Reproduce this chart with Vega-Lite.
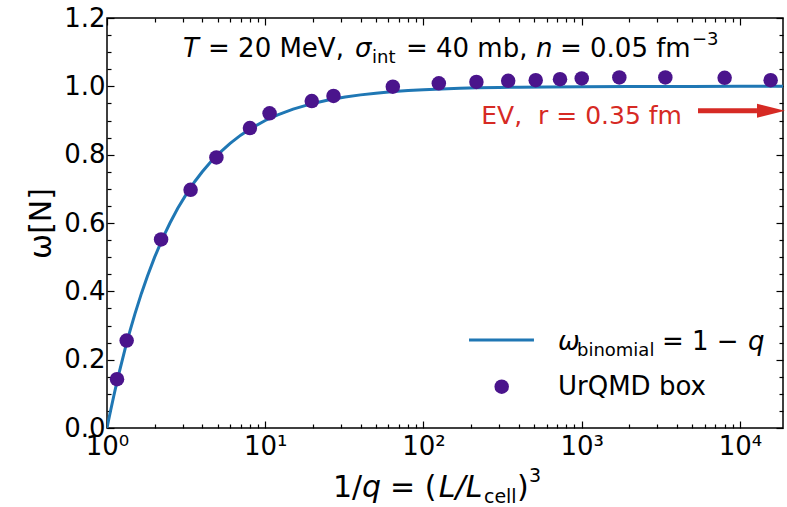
{
  "$schema": "https://vega.github.io/schema/vega-lite/v6.json",
  "width": 676,
  "height": 410,
  "autosize": {"type": "none"},
  "padding": {"left": 107, "top": 18, "right": 4, "bottom": 79},
  "background": "white",
  "config": {
    "view": {"stroke": "black", "strokeWidth": 1.5},
    "font": "DejaVu Sans",
    "axis": {"domain": false, "grid": false, "tickColor": "black", "tickWidth": 1.2, "labelColor": "black", "labelFont": "DejaVu Sans", "labelFontSize": 26, "labelOverlap": false, "labelFlush": false, "labelBound": false, "titleColor": "black", "titleFont": "DejaVu Sans", "titleFontWeight": "normal"}
  },
  "resolve": {"axis": {"x": "independent", "y": "independent"}},
  "layer": [
    {
      "data": {"values": [
        {"x": 1, "y": 0}, {"x": 1.02, "y": 0.0196}, {"x": 1.05, "y": 0.0476}, {"x": 1.1, "y": 0.0909}, {"x": 1.15, "y": 0.1304}, {"x": 1.2, "y": 0.1667}, {"x": 1.3, "y": 0.2308}, {"x": 1.4, "y": 0.2857}, {"x": 1.5, "y": 0.3333}, {"x": 1.65, "y": 0.3939}, {"x": 1.8, "y": 0.4444}, {"x": 2, "y": 0.5}, {"x": 2.25, "y": 0.5556}, {"x": 2.5, "y": 0.6}, {"x": 2.8, "y": 0.6429}, {"x": 3.2, "y": 0.6875}, {"x": 3.6, "y": 0.7222}, {"x": 4, "y": 0.75}, {"x": 4.5, "y": 0.7778}, {"x": 5, "y": 0.8}, {"x": 6, "y": 0.8333}, {"x": 7, "y": 0.8571}, {"x": 8, "y": 0.875}, {"x": 10, "y": 0.9}, {"x": 12, "y": 0.9167}, {"x": 15, "y": 0.9333}, {"x": 20, "y": 0.95}, {"x": 25, "y": 0.96}, {"x": 32, "y": 0.96875}, {"x": 40, "y": 0.975}, {"x": 50, "y": 0.98}, {"x": 65, "y": 0.9846}, {"x": 80, "y": 0.9875}, {"x": 100, "y": 0.99}, {"x": 130, "y": 0.9923}, {"x": 170, "y": 0.9941}, {"x": 220, "y": 0.9955}, {"x": 300, "y": 0.9967}, {"x": 400, "y": 0.9975}, {"x": 600, "y": 0.9983}, {"x": 1000, "y": 0.999}, {"x": 2000, "y": 0.9995}, {"x": 5000, "y": 0.9998}, {"x": 10000, "y": 0.9999}, {"x": 18700, "y": 0.99995}
      ]},
      "mark": {"type": "line", "color": "#1f77b4", "strokeWidth": 3, "clip": true},
      "encoding": {
        "x": {"field": "x", "type": "quantitative", "scale": {"type": "log", "domain": [1, 18700]},
          "axis": {"orient": "bottom", "title": null,
            "values": [1, 2, 3, 4, 5, 6, 7, 8, 9, 10, 20, 30, 40, 50, 60, 70, 80, 90, 100, 200, 300, 400, 500, 600, 700, 800, 900, 1000, 2000, 3000, 4000, 5000, 6000, 7000, 8000, 9000, 10000],
            "labelExpr": "datum.value == 1 ? '10⁰' : datum.value == 10 ? '10¹' : datum.value == 100 ? '10²' : datum.value == 1000 ? '10³' : datum.value == 10000 ? '10⁴' : ''",
            "tickSize": {"condition": {"test": "indexof([1, 10, 100, 1000, 10000], datum.value) >= 0", "value": -7}, "value": -4},
            "labelPadding": 12}},
        "y": {"field": "y", "type": "quantitative", "scale": {"domain": [0, 1.2]},
          "axis": {"orient": "left", "title": "ω[N]", "titleFontSize": 30, "titlePadding": 7,
            "values": [0, 0.05, 0.1, 0.15, 0.2, 0.25, 0.3, 0.35, 0.4, 0.45, 0.5, 0.55, 0.6, 0.65, 0.7, 0.75, 0.8, 0.85, 0.9, 0.95, 1, 1.05, 1.1, 1.15, 1.2],
            "labelExpr": "abs(datum.value * 5 - round(datum.value * 5)) < 0.000001 ? format(datum.value, '.1f') : ''",
            "tickSize": {"condition": {"test": "abs(datum.value * 5 - round(datum.value * 5)) < 0.000001", "value": -7}, "value": -4},
            "labelPadding": 9}}
      }
    },
    {
      "data": {"values": [
        {"x": 1.157, "y": 0.143}, {"x": 1.331, "y": 0.256}, {"x": 2.197, "y": 0.552}, {"x": 3.375, "y": 0.697}, {"x": 4.913, "y": 0.792}, {"x": 8, "y": 0.878}, {"x": 10.65, "y": 0.921}, {"x": 19.68, "y": 0.957}, {"x": 27, "y": 0.972}, {"x": 64, "y": 0.999}, {"x": 125, "y": 1.009}, {"x": 216, "y": 1.013}, {"x": 343, "y": 1.016}, {"x": 512, "y": 1.018}, {"x": 729, "y": 1.021}, {"x": 1000, "y": 1.023}, {"x": 1728, "y": 1.026}, {"x": 3375, "y": 1.026}, {"x": 8000, "y": 1.025}, {"x": 15625, "y": 1.018}
      ]},
      "mark": {"type": "circle", "color": "#4a148c", "size": 210, "opacity": 1},
      "encoding": {
        "x": {"field": "x", "type": "quantitative", "scale": {"type": "log", "domain": [1, 18700]},
          "axis": {"orient": "top", "title": null, "labels": false,
            "values": [1, 2, 3, 4, 5, 6, 7, 8, 9, 10, 20, 30, 40, 50, 60, 70, 80, 90, 100, 200, 300, 400, 500, 600, 700, 800, 900, 1000, 2000, 3000, 4000, 5000, 6000, 7000, 8000, 9000, 10000],
            "tickSize": {"condition": {"test": "indexof([1, 10, 100, 1000, 10000], datum.value) >= 0", "value": -7}, "value": -4}}},
        "y": {"field": "y", "type": "quantitative", "scale": {"domain": [0, 1.2]},
          "axis": {"orient": "right", "title": null, "labels": false,
            "values": [0, 0.05, 0.1, 0.15, 0.2, 0.25, 0.3, 0.35, 0.4, 0.45, 0.5, 0.55, 0.6, 0.65, 0.7, 0.75, 0.8, 0.85, 0.9, 0.95, 1, 1.05, 1.1, 1.15, 1.2],
            "tickSize": {"condition": {"test": "abs(datum.value * 5 - round(datum.value * 5)) < 0.000001", "value": -7}, "value": -4}}}
      }
    },
    {
      "data": {"values": [{"x": 194, "x2": 499, "y": 0.2575}]},
      "mark": {"type": "rule", "color": "#1f77b4", "strokeWidth": 3},
      "encoding": {
        "x": {"field": "x", "type": "quantitative", "scale": {"type": "log", "domain": [1, 18700]}, "axis": null},
        "x2": {"field": "x2"},
        "y": {"field": "y", "type": "quantitative", "scale": {"domain": [0, 1.2]}, "axis": null}
      }
    },
    {
      "data": {"values": [{"x": 312, "y": 0.1209}]},
      "mark": {"type": "circle", "color": "#4a148c", "size": 210, "opacity": 1},
      "encoding": {
        "x": {"field": "x", "type": "quantitative", "scale": {"type": "log", "domain": [1, 18700]}, "axis": null},
        "y": {"field": "y", "type": "quantitative", "scale": {"domain": [0, 1.2]}, "axis": null}
      }
    },
    {
      "data": {"values": [{"x": 5430, "x2": 12805, "y": 0.9286}]},
      "mark": {"type": "rule", "color": "#d62a24", "strokeWidth": 5, "strokeCap": "butt"},
      "encoding": {
        "x": {"field": "x", "type": "quantitative", "scale": {"type": "log", "domain": [1, 18700]}, "axis": null},
        "x2": {"field": "x2"},
        "y": {"field": "y", "type": "quantitative", "scale": {"domain": [0, 1.2]}, "axis": null}
      }
    },
    {
      "data": {"values": [{"x": 15700, "y": 0.9286}]},
      "mark": {"type": "point", "shape": "M-1,-0.5L1,0L-1,0.5Z", "filled": true, "color": "#d62a24", "size": 784, "opacity": 1},
      "encoding": {
        "x": {"field": "x", "type": "quantitative", "scale": {"type": "log", "domain": [1, 18700]}, "axis": null},
        "y": {"field": "y", "type": "quantitative", "scale": {"domain": [0, 1.2]}, "axis": null}
      }
    },
    {
      "data": {"values": [{"x": 232, "y": 0.8897, "t": "EV,\u00a0 r = 0.35 fm"}]},
      "mark": {"type": "text", "align": "left", "baseline": "alphabetic", "fontSize": 25, "font": "DejaVu Sans", "color": "#d62a24"},
      "encoding": {
        "x": {"field": "x", "type": "quantitative", "scale": {"type": "log", "domain": [1, 18700]}, "axis": null},
        "y": {"field": "y", "type": "quantitative", "scale": {"domain": [0, 1.2]}, "axis": null},
        "text": {"field": "t"}
      }
    },
    {
      "data": {"values": [
        {"x": 4.35, "y": 1.0857, "t": "= 20 MeV,"},
        {"x": 77.5, "y": 1.0857, "t": "= 40 mb,"},
        {"x": 729, "y": 1.0857, "t": "= 0.05 fm"},
        {"x": 3214, "y": 0.228, "t": "= 1 −"},
        {"x": 708, "y": 0.0966, "t": "UrQMD box"}
      ]},
      "mark": {"type": "text", "align": "left", "baseline": "alphabetic", "fontSize": 26, "font": "DejaVu Sans", "color": "black"},
      "encoding": {
        "x": {"field": "x", "type": "quantitative", "scale": {"type": "log", "domain": [1, 18700]}, "axis": null},
        "y": {"field": "y", "type": "quantitative", "scale": {"domain": [0, 1.2]}, "axis": null},
        "text": {"field": "t"}
      }
    },
    {
      "data": {"values": [
        {"x": 3.02, "y": 1.0857, "t": "T"},
        {"x": 36.9, "y": 1.0857, "t": "σ"},
        {"x": 514, "y": 1.0857, "t": "n"},
        {"x": 708, "y": 0.228, "t": "ω"},
        {"x": 11236, "y": 0.228, "t": "q"}
      ]},
      "mark": {"type": "text", "align": "left", "baseline": "alphabetic", "fontSize": 26, "fontStyle": "italic", "font": "DejaVu Sans", "color": "black"},
      "encoding": {
        "x": {"field": "x", "type": "quantitative", "scale": {"type": "log", "domain": [1, 18700]}, "axis": null},
        "y": {"field": "y", "type": "quantitative", "scale": {"domain": [0, 1.2]}, "axis": null},
        "text": {"field": "t"}
      }
    },
    {
      "data": {"values": [
        {"x": 47.3, "y": 1.068, "t": "int"},
        {"x": 933, "y": 0.2107, "t": "binomial"}
      ]},
      "mark": {"type": "text", "align": "left", "baseline": "alphabetic", "fontSize": 18, "font": "DejaVu Sans", "color": "black"},
      "encoding": {
        "x": {"field": "x", "type": "quantitative", "scale": {"type": "log", "domain": [1, 18700]}, "axis": null},
        "y": {"field": "y", "type": "quantitative", "scale": {"domain": [0, 1.2]}, "axis": null},
        "text": {"field": "t"}
      }
    },
    {
      "data": {"values": [
        {"x": 4977, "y": 1.121, "t": "−3"}
      ]},
      "mark": {"type": "text", "align": "left", "baseline": "alphabetic", "fontSize": 18, "font": "DejaVu Sans", "color": "black"},
      "encoding": {
        "x": {"field": "x", "type": "quantitative", "scale": {"type": "log", "domain": [1, 18700]}, "axis": null},
        "y": {"field": "y", "type": "quantitative", "scale": {"domain": [0, 1.2]}, "axis": null},
        "text": {"field": "t"}
      }
    },
    {
      "data": {"values": [
        {"x": 26.8, "y": -0.2019, "t": "1/"},
        {"x": 61.4, "y": -0.2019, "t": "= ("},
        {"x": 390, "y": -0.2019, "t": ")"}
      ]},
      "mark": {"type": "text", "align": "left", "baseline": "alphabetic", "fontSize": 30, "font": "DejaVu Sans", "color": "black"},
      "encoding": {
        "x": {"field": "x", "type": "quantitative", "scale": {"type": "log", "domain": [1, 18700]}, "axis": null},
        "y": {"field": "y", "type": "quantitative", "scale": {"domain": [0, 1.2]}, "axis": null},
        "text": {"field": "t"}
      }
    },
    {
      "data": {"values": [
        {"x": 40.9, "y": -0.2019, "t": "q"},
        {"x": 125, "y": -0.2019, "t": "L/L"}
      ]},
      "mark": {"type": "text", "align": "left", "baseline": "alphabetic", "fontSize": 30, "fontStyle": "italic", "font": "DejaVu Sans", "color": "black"},
      "encoding": {
        "x": {"field": "x", "type": "quantitative", "scale": {"type": "log", "domain": [1, 18700]}, "axis": null},
        "y": {"field": "y", "type": "quantitative", "scale": {"domain": [0, 1.2]}, "axis": null},
        "text": {"field": "t"}
      }
    },
    {
      "data": {"values": [
        {"x": 241, "y": -0.2195, "t": "cell"},
        {"x": 464, "y": -0.158, "t": "3"}
      ]},
      "mark": {"type": "text", "align": "left", "baseline": "alphabetic", "fontSize": 19, "font": "DejaVu Sans", "color": "black"},
      "encoding": {
        "x": {"field": "x", "type": "quantitative", "scale": {"type": "log", "domain": [1, 18700]}, "axis": null},
        "y": {"field": "y", "type": "quantitative", "scale": {"domain": [0, 1.2]}, "axis": null},
        "text": {"field": "t"}
      }
    }
  ]
}
